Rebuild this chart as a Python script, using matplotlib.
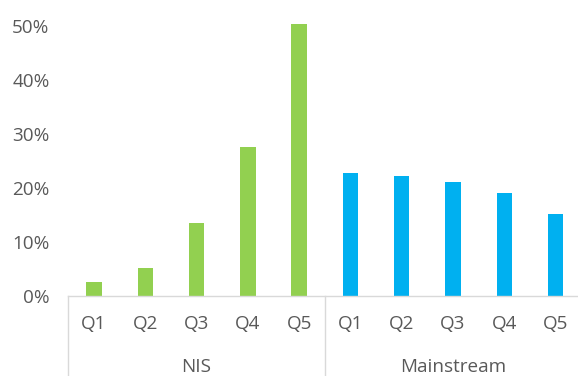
import matplotlib
matplotlib.use("Agg")
import matplotlib.pyplot as plt
import matplotlib.transforms as mtransforms
from matplotlib.ticker import FuncFormatter

# Share of households in each quintile
groups = ["NIS", "Mainstream"]
quintiles = ["Q1", "Q2", "Q3", "Q4", "Q5"]
nis_values = [0.026, 0.052, 0.135, 0.275, 0.503]
mainstream_values = [0.227, 0.223, 0.211, 0.190, 0.152]
group_colors = ["#92D050", "#00B0F0"]
y_ticks = [0.0, 0.1, 0.2, 0.3, 0.4, 0.5]

text_color = "#595959"
axis_color = "#D9D9D9"
plt.rcParams["font.family"] = ["Open Sans", "DejaVu Sans"]

W, H = 578, 376
fig = plt.figure(figsize=(W / 100, H / 100), dpi=100)

# axes box in pixels: left edge, baseline, width, height
left_px, base_px, slot_px, top_px = 68.3, 296.3, 51.3, 25.7
n_slots = len(quintiles) * len(groups)
ax = fig.add_axes([left_px / W, (H - base_px) / H,
                   n_slots * slot_px / W, (base_px - top_px) / H])

series = [nis_values, mainstream_values]
labels = []
for g, (vals, col) in enumerate(zip(series, group_colors)):
    xs = [g * len(quintiles) + i for i in range(len(quintiles))]
    ax.bar(xs, vals, width=0.3, color=col, clip_on=False, zorder=2)
    labels.extend(quintiles)

ax.set_xlim(-0.5, n_slots - 0.5)
ax.set_ylim(0, 0.5)
ax.set_yticks(y_ticks)
ax.yaxis.set_major_formatter(FuncFormatter(lambda v, _: f"{v * 100:.0f}%"))
ax.set_xticks(range(n_slots))
ax.set_xticklabels(labels)

for side in ["top", "right", "left"]:
    ax.spines[side].set_visible(False)
ax.spines["bottom"].set_color(axis_color)
ax.spines["bottom"].set_linewidth(1.0)

fs = 13.6
ax.tick_params(axis="both", length=0, labelsize=fs, colors=text_color)
ax.tick_params(axis="y", pad=13.5)
ax.tick_params(axis="x", pad=13.5)

# group separators and group names under the quintile labels
trans = mtransforms.blended_transform_factory(ax.transData, ax.transAxes)
for g in range(len(groups) + 1):
    xb = g * len(quintiles) - 0.5
    ax.plot([xb, xb], [0, -0.4], transform=trans, color=axis_color,
            lw=1.0, clip_on=False)
for g, name in enumerate(groups):
    xc = g * len(quintiles) + (len(quintiles) - 1) / 2
    ax.text(xc, -70.5 / (base_px - top_px), name, transform=trans,
            ha="center", va="center", fontsize=fs, color=text_color)

fig.savefig("out.png", dpi=100)
